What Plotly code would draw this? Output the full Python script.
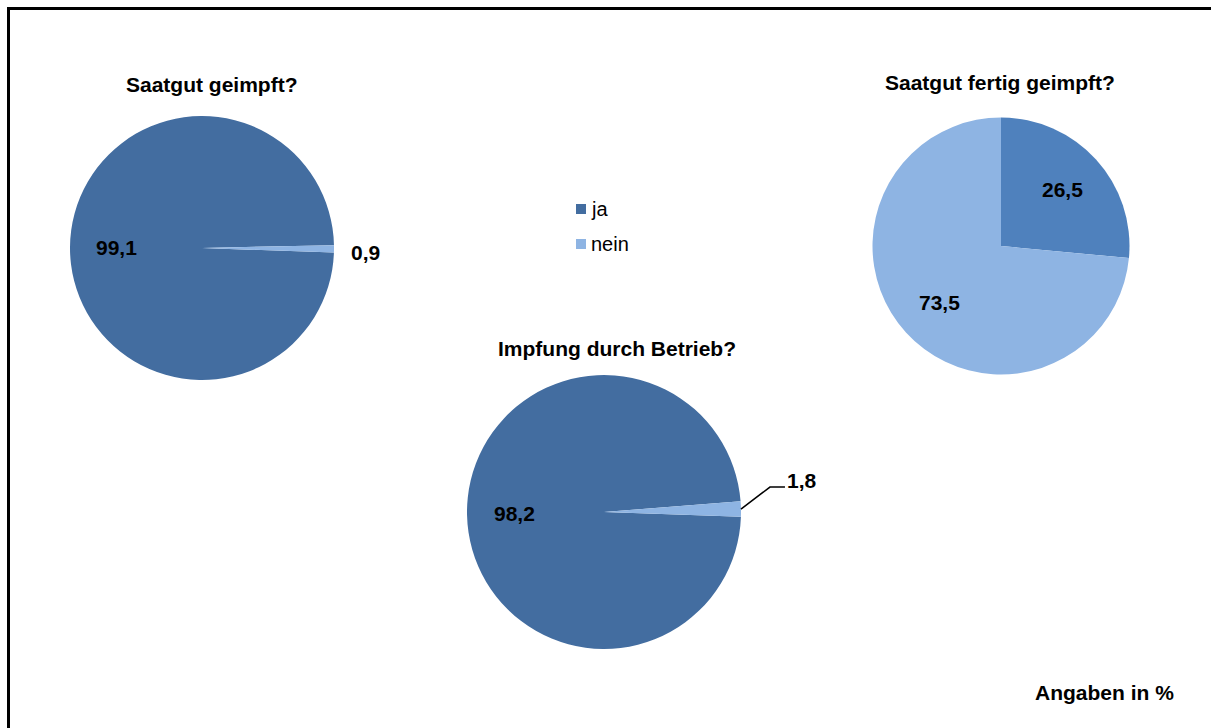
import math
import plotly.graph_objects as go

# ---- data ----
titles = ["Saatgut geimpft?", "Impfung durch Betrieb?", "Saatgut fertig geimpft?"]
labels = ["ja", "nein"]
vals_geimpft = [99.1, 0.9]
vals_betrieb = [98.2, 1.8]
vals_fertig = [26.5, 73.5]
note = "Angaben in %"

# ---- style / layout ----
W, H = 1211, 728
FONT = "Liberation Sans, Arial, sans-serif"
FS = 21
DARK = "#436DA0"
MID = "#4F81BD"
LIGHT = "#8EB4E3"

pies = [
    dict(vals=vals_geimpft, cx=202, cy=248, r=132, rot=92, colors=[DARK, LIGHT],
         title=titles[0], tx=212, ty=84, outside=[False, True]),
    dict(vals=vals_betrieb, cx=604, cy=512, r=137, rot=92, colors=[DARK, LIGHT],
         title=titles[1], tx=617, ty=348, outside=[False, True]),
    dict(vals=vals_fertig, cx=1001, cy=246, r=128.5, rot=0, colors=[MID, LIGHT],
         title=titles[2], tx=1000, ty=82, outside=[False, False]),
]


def px(x):
    return x / W


def py(y):
    return 1 - y / H


def fmt(v):
    return f"{v:.1f}".replace(".", ",")


fig = go.Figure()
annotations = []
shapes = []

for i, p in enumerate(pies):
    cx, cy, r = p["cx"], p["cy"], p["r"]
    fig.add_trace(go.Pie(
        labels=labels, values=p["vals"], sort=False, direction="clockwise",
        rotation=p["rot"], textinfo="none", hoverinfo="label+value",
        marker=dict(colors=p["colors"], line=dict(width=0)),
        domain=dict(x=[px(cx - r), px(cx + r)], y=[py(cy + r), py(cy - r)]),
        showlegend=False,
    ))
    annotations.append(dict(
        x=px(p["tx"]), y=py(p["ty"]), xref="paper", yref="paper",
        text=f"<b>{p['title']}</b>", showarrow=False,
        font=dict(family=FONT, size=FS, color="black"),
        xanchor="center", yanchor="middle"))
    total = sum(p["vals"])
    start = p["rot"]
    for j, v in enumerate(p["vals"]):
        span = 360 * v / total
        mid = math.radians(start + span / 2)
        start += span
        s, c = math.sin(mid), math.cos(mid)
        if not p["outside"][j]:
            f = 0.65
            lx, ly = cx + f * r * s, cy - f * r * c
            annotations.append(dict(
                x=px(lx), y=py(ly), xref="paper", yref="paper",
                text=f"<b>{fmt(v)}</b>", showarrow=False,
                font=dict(family=FONT, size=FS, color="black"),
                xanchor="center", yanchor="middle"))
        elif i == 0:
            f = 1.235
            lx, ly = cx + f * r * s, cy - f * r * c + 3
            annotations.append(dict(
                x=px(lx), y=py(ly), xref="paper", yref="paper",
                text=f"<b>{fmt(v)}</b>", showarrow=False,
                font=dict(family=FONT, size=FS, color="black"),
                xanchor="center", yanchor="middle"))
        else:
            ex, ey = cx + r * s, cy - r * c
            kx, ky = ex + 29, ey - 22
            hx = kx + 15
            shapes.append(dict(
                type="path", xref="paper", yref="paper",
                path=f"M {px(ex)},{py(ey)} L {px(kx)},{py(ky)} L {px(hx)},{py(ky)}",
                line=dict(color="black", width=1.5)))
            annotations.append(dict(
                x=px(hx), y=py(ky - 7), xref="paper", yref="paper",
                text=f"<b>{fmt(v)}</b>", showarrow=False,
                font=dict(family=FONT, size=FS, color="black"),
                xanchor="left", yanchor="middle"))

annotations.append(dict(
    x=px(1176), y=py(692), xref="paper", yref="paper",
    text=f"<b>{note}</b>", showarrow=False,
    font=dict(family=FONT, size=FS, color="black"),
    xanchor="right", yanchor="middle"))

# legend (drawn manually, colours from first pie)
leg_x, leg_y0, leg_dy, sq = 576, 209, 35, 10
for k, lab in enumerate(labels):
    yc = leg_y0 + k * leg_dy
    shapes.append(dict(type="rect", xref="paper", yref="paper",
                       x0=px(leg_x), x1=px(leg_x + sq),
                       y0=py(yc + sq / 2), y1=py(yc - sq / 2),
                       fillcolor=pies[0]["colors"][k], line=dict(width=0)))
    annotations.append(dict(
        x=px(leg_x + sq + 3), y=py(yc), xref="paper", yref="paper",
        text=lab, showarrow=False,
        font=dict(family=FONT, size=20, color="black"),
        xanchor="left", yanchor="middle"))

# chart frame (left and top edges visible)
shapes.append(dict(type="line", xref="paper", yref="paper",
                   x0=px(8.5), x1=px(8.5), y0=0, y1=py(7),
                   line=dict(color="black", width=3)))
shapes.append(dict(type="line", xref="paper", yref="paper",
                   x0=px(7), x1=1, y0=py(8.5), y1=py(8.5),
                   line=dict(color="black", width=3)))

fig.update_layout(
    width=W, height=H,
    margin=dict(l=0, r=0, t=0, b=0),
    paper_bgcolor="white", plot_bgcolor="white",
    font=dict(family=FONT, size=FS, color="black"),
    showlegend=False,
    annotations=annotations,
    shapes=shapes,
)

fig.write_html("out.html")
